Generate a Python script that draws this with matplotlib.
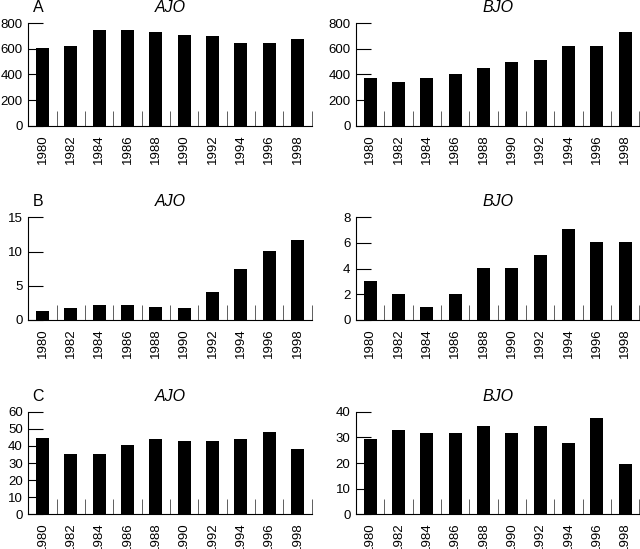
import matplotlib
matplotlib.use('Agg')
import matplotlib.pyplot as plt

# Years on the x axis (same for every panel)
years = ['1980', '1982', '1984', '1986', '1988', '1990', '1992', '1994', '1996', '1998']

# Panel A
a_ajo = [602, 618, 745, 743, 732, 709, 696, 644, 644, 673]
a_bjo = [369, 338, 369, 403, 449, 496, 512, 618, 618, 727]
# Panel B
b_ajo = [1.36, 1.7, 2.19, 2.24, 1.95, 1.7, 4.04, 7.4, 10.03, 11.74]
b_bjo = [3.05, 2.05, 1.0, 2.05, 4.07, 4.07, 5.05, 7.12, 6.05, 6.05]
# Panel C
c_ajo = [44.8, 35.1, 35.1, 40.3, 43.8, 42.7, 42.7, 43.8, 48.3, 38.4]
c_bjo = [29.2, 33.0, 31.6, 31.6, 34.5, 31.6, 34.5, 27.7, 37.4, 19.5]

# y axis settings per panel
a_ajo_ticks = [0, 200, 400, 600, 800]
a_bjo_ticks = [0, 200, 400, 600, 800]
b_ajo_ticks = [0, 5, 10, 15]
b_bjo_ticks = [0, 2, 4, 6, 8]
c_ajo_ticks = [0, 10, 20, 30, 40, 50, 60]
c_bjo_ticks = [0, 10, 20, 30, 40]

plt.rcParams['font.family'] = ['Liberation Sans', 'DejaVu Sans']

W, H = 640, 549
fig = plt.figure(figsize=(W / 100, H / 100), dpi=100)


def make_panel(left_px, top_px, bottom_px, width_px, values, yticks, title, letter=None):
    ax = fig.add_axes([left_px / W, 1 - bottom_px / H, width_px / W, (bottom_px - top_px) / H])
    x = list(range(len(years)))
    ax.bar(x, values, width=0.46, color='black')
    ax.set_xlim(-0.5, len(years) - 0.5)
    ax.set_ylim(0, yticks[-1])
    ax.set_yticks(yticks)
    ax.set_xticks(x)
    ax.set_xticklabels(years, rotation=90)
    # tick marks sit between the bars, pointing up
    ax.set_xticks([i + 0.5 for i in x], minor=True)
    ax.tick_params(axis='x', which='major', length=0, pad=6, labelsize=9.5)
    ax.tick_params(axis='x', which='minor', direction='in', length=11, width=0.6, color='#444444')
    ax.tick_params(axis='y', direction='in', length=11, width=0.8, pad=4, labelsize=9.5)
    for side in ['top', 'right']:
        ax.spines[side].set_visible(False)
    for side in ['left', 'bottom']:
        ax.spines[side].set_linewidth(0.8)
    ax.set_title(title, fontsize=11.5, style='italic', pad=8)
    if letter:
        ax.annotate(letter, xy=(0, 1), xycoords='axes fraction', xytext=(3, 8),
                    textcoords='offset points', fontsize=11.5, va='baseline', ha='left')
    return ax


left_x, right_x, width = 28.4, 356, 283.3
rows = [(23, 125.7), (217.3, 320), (411.7, 514.3)]

make_panel(left_x, rows[0][0], rows[0][1], width, a_ajo, a_ajo_ticks, 'AJO', 'A')
make_panel(right_x, rows[0][0], rows[0][1], width, a_bjo, a_bjo_ticks, 'BJO')
make_panel(left_x, rows[1][0], rows[1][1], width, b_ajo, b_ajo_ticks, 'AJO', 'B')
make_panel(right_x, rows[1][0], rows[1][1], width, b_bjo, b_bjo_ticks, 'BJO')
make_panel(left_x, rows[2][0], rows[2][1], width, c_ajo, c_ajo_ticks, 'AJO', 'C')
make_panel(right_x, rows[2][0], rows[2][1], width, c_bjo, c_bjo_ticks, 'BJO')

fig.savefig('out.png', dpi=100)
